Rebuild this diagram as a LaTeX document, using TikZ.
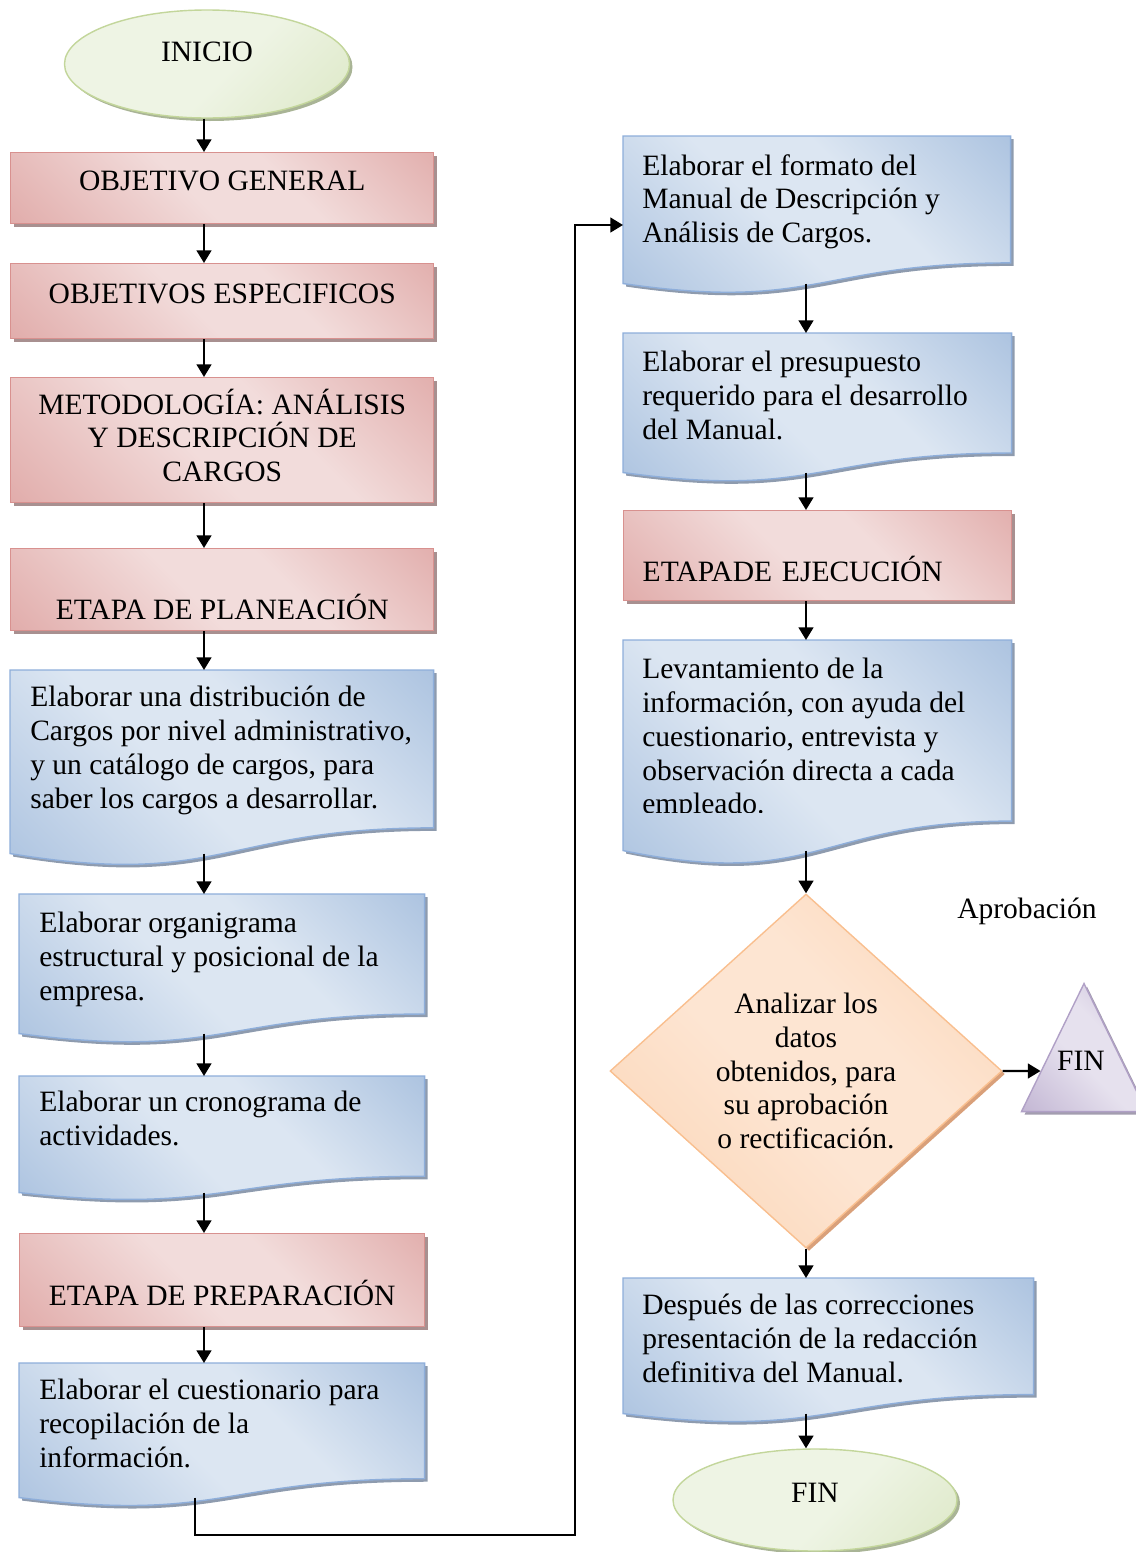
\documentclass[tikz,border=0pt]{standalone}
\usepackage{fontspec}
\setmainfont{Liberation Serif}
\usepackage{xcolor}
\usetikzlibrary{shapes.geometric,arrows.meta,positioning,calc,shadows}

\definecolor{redlt}{HTML}{F2DCDB}
\definecolor{reddk}{HTML}{D99694}
\definecolor{redbd}{HTML}{D8918F}
\definecolor{redsh}{HTML}{A89090}
\definecolor{bluelt}{HTML}{DCE6F2}
\definecolor{bluedk}{HTML}{92B0D6}
\definecolor{bluebd}{HTML}{8EAEDA}
\definecolor{bluesh}{HTML}{8E9BAE}
\definecolor{greenlt}{HTML}{EEF4E4}
\definecolor{greendk}{HTML}{D4E2B8}
\definecolor{greenbd}{HTML}{C3D69B}
\definecolor{greensh}{HTML}{A9B496}
\definecolor{orglt}{HTML}{FDE5D2}
\definecolor{orgdk}{HTML}{FAC9A1}
\definecolor{orgbd}{HTML}{F9BF8F}
\definecolor{orgsh}{HTML}{D9A07A}
\definecolor{purlt}{HTML}{E6E1EE}
\definecolor{purdk}{HTML}{B2A2C7}
\definecolor{purbd}{HTML}{B0A0C6}
\definecolor{pursh}{HTML}{A39DAF}

\pgfdeclareverticalshading{redfx}{100bp}{color(0bp)=(reddk); color(45bp)=(redlt); color(60bp)=(redlt); color(100bp)=(reddk)}
\pgfdeclareverticalshading{bluefx}{100bp}{color(0bp)=(bluedk); color(45bp)=(bluelt); color(60bp)=(bluelt); color(100bp)=(bluedk)}
\pgfdeclareverticalshading{greenfx}{100bp}{color(0bp)=(greendk); color(45bp)=(greenlt); color(100bp)=(greenlt)}
\pgfdeclareverticalshading{orgfx}{100bp}{color(0bp)=(orgdk); color(45bp)=(orglt); color(60bp)=(orglt); color(100bp)=(orgdk)}
\pgfdeclareverticalshading{purfx}{100bp}{color(0bp)=(purdk); color(45bp)=(purlt); color(60bp)=(purlt); color(100bp)=(purdk)}

\newlength{\unitpx}
\setlength{\unitpx}{0.025cm}

% fondo de un documento (borde inferior ondulado)
\newcommand{\docfill}[2]{%
  \path[#2] (#1.north west) -- (#1.north east)
    -- ($(#1.north east)!0.86!(#1.south east)$)
    .. controls ($(#1.north)!0.86!(#1.south)$) and ($(#1.north)!1.19!(#1.south)$)
    .. (#1.south west) -- cycle;}

\begin{document}
\begin{tikzpicture}[
    x=0.025cm, y=-0.025cm,
    font=\fontsize{21}{24}\selectfont,
    arrow/.style={->, line width=1.5pt, >={Triangle[length=9pt, width=10.5pt]}},
    redbox/.style={anchor=north west, inner sep=0pt, align=center, shading=redfx, shading angle=-45, draw=redbd, line width=1pt,
        drop shadow={shadow xshift=0.075cm, shadow yshift=-0.075cm, fill=redsh, opacity=1}},
    termbox/.style={ellipse, inner sep=0pt, shading=greenfx, shading angle=45, draw=greenbd, line width=1pt,
        drop shadow={shadow xshift=0.075cm, shadow yshift=-0.075cm, fill=greensh, opacity=1}},
    frame/.style={anchor=north west, inner sep=0pt},
    doctext/.style={anchor=north west, inner sep=0pt, align=left},
    bluefill/.style={shading=bluefx, shading angle=-45, draw=bluebd, line width=1pt},
    blueshadow/.style={fill=bluesh, transform canvas={xshift=0.075cm, yshift=-0.075cm}}
]
    \useasboundingbox (0,0) rectangle (1136,1552);

    % ejes de las flechas
    \coordinate (lx) at (204,0);
    \coordinate (rx) at (806,0);

    % Columna izquierda
    \node[termbox, minimum width=285*\unitpx, minimum height=108*\unitpx, text height=14pt, text depth=17pt] (ini) at (207,64) {INICIO};
    \node[redbox, minimum width=423*\unitpx, minimum height=71*\unitpx, text height=14pt, text depth=11pt] (og) at (10,152) {OBJETIVO GENERAL};
    \node[redbox, minimum width=423*\unitpx, minimum height=75*\unitpx, text height=14pt, text depth=11pt] (oe) at (10,263) {OBJETIVOS ESPECIFICOS};
    \node[redbox, minimum width=423*\unitpx, minimum height=125*\unitpx] (met) at (10,377) {METODOLOGÍA: ANÁLISIS\\Y DESCRIPCIÓN DE\\CARGOS\\[-17pt]};
    \node[redbox, minimum width=423*\unitpx, minimum height=82*\unitpx, text height=42pt, text depth=0pt] (plan) at (10,548) {ETAPA DE PLANEACIÓN};

    \node[frame, minimum width=423*\unitpx, minimum height=183*\unitpx] (d1) at (10,670) {};
    \docfill{d1}{blueshadow}
    \docfill{d1}{bluefill}
    \node[doctext] (t1) at ($(d1.north west)+(20,16)$) {Elaborar una distribución de\\Cargos por nivel administrativo,\\y un catálogo de cargos, para\\saber los cargos a desarrollar.};

    \node[frame, minimum width=405*\unitpx, minimum height=139*\unitpx] (d2) at (19,894) {};
    \docfill{d2}{blueshadow}
    \docfill{d2}{bluefill}
    \node[doctext] (t2) at ($(d2.north west)+(20,18)$) {Elaborar organigrama\\estructural y posicional de la\\empresa.};

    \node[frame, minimum width=405*\unitpx, minimum height=116*\unitpx] (d3) at (19,1076) {};
    \docfill{d3}{blueshadow}
    \docfill{d3}{bluefill}
    \node[doctext] (t3) at ($(d3.north west)+(20,15)$) {Elaborar un cronograma de\\actividades.};

    \node[redbox, minimum width=405*\unitpx, minimum height=93*\unitpx, text height=36pt, text depth=0pt] (prep) at (19,1233) {ETAPA DE PREPARACIÓN};

    \node[frame, minimum width=405*\unitpx, minimum height=134*\unitpx] (d4) at (19,1363) {};
    \docfill{d4}{blueshadow}
    \docfill{d4}{bluefill}
    \node[doctext] (t4) at ($(d4.north west)+(20,16)$) {Elaborar el cuestionario para\\recopilación de la\\información.};

    % Columna derecha
    \node[frame, minimum width=387*\unitpx, minimum height=147*\unitpx] (r1) at (623,136) {};
    \docfill{r1}{blueshadow}
    \docfill{r1}{bluefill}
    \node[doctext] (s1) at ($(r1.north west)+(19,18)$) {Elaborar el formato del\\Manual de Descripción y\\Análisis de Cargos.};

    \node[frame, minimum width=388*\unitpx, minimum height=139*\unitpx] (r2) at (623,333) {};
    \docfill{r2}{blueshadow}
    \docfill{r2}{bluefill}
    \node[doctext] (s2) at ($(r2.north west)+(19,18)$) {Elaborar el presupuesto\\requerido para el desarrollo\\del Manual.};

    \node[redbox, minimum width=388*\unitpx, minimum height=90*\unitpx, text height=36pt, text depth=0pt, align=left, text width=350*\unitpx] (ejec) at (623,510) {ETAPADE EJECUCIÓN};

    \node[frame, minimum width=388*\unitpx, minimum height=210*\unitpx] (r3) at (623,640) {};
    \docfill{r3}{blueshadow}
    \docfill{r3}{bluefill}
    \begin{scope}
        \clip (r3.north west) rectangle ($(r3.north east)+(0,172)$);
        \node[doctext] (s3) at ($(r3.north west)+(19,18)$) {Levantamiento de la\\información, con ayuda del\\cuestionario, entrevista y\\observación directa a cada\\empleado.};
    \end{scope}

    \node[diamond, minimum width=392*\unitpx, minimum height=354*\unitpx, inner sep=0pt, align=center, shading=orgfx, shading angle=-45, draw=orgbd, line width=1pt,
        drop shadow={shadow xshift=0.075cm, shadow yshift=-0.075cm, fill=orgsh, opacity=1}] (dec) at (806,1071)
        {Analizar los\\datos\\obtenidos, para\\su aprobación\\o rectificación.};
    \node (aprob) at (1027,911) {Aprobación};
    \node[isosceles triangle, isosceles triangle apex angle=54, shape border rotate=90, isosceles triangle stretches,
        minimum width=125*\unitpx, minimum height=128*\unitpx, inner sep=0pt, anchor=apex,
        shading=purfx, shading angle=-45, draw=purbd, line width=1pt,
        drop shadow={shadow xshift=0.075cm, shadow yshift=-0.075cm, fill=pursh, opacity=1}] (tri) at (1084,982) {};
    \node (fin2) at ($(tri.apex)+(-3,79)$) {FIN};

    \node[frame, minimum width=410*\unitpx, minimum height=135*\unitpx] (r4) at (623,1278) {};
    \docfill{r4}{blueshadow}
    \docfill{r4}{bluefill}
    \node[doctext] (s4) at ($(r4.north west)+(19,16)$) {Después de las correcciones\\presentación de la redacción\\definitiva del Manual.};

    \node[termbox, minimum width=284*\unitpx, minimum height=102*\unitpx, text height=14pt, text depth=10pt] (fin) at (815,1500) {FIN};

    % Flechas
    \draw[arrow] (ini.south -| lx) -- (og.north -| lx);
    \draw[arrow] (og.south -| lx) -- (oe.north -| lx);
    \draw[arrow] (oe.south -| lx) -- (met.north -| lx);
    \draw[arrow] (met.south -| lx) -- (plan.north -| lx);
    \draw[arrow] (plan.south -| lx) -- (d1.north -| lx);
    \draw[arrow] (d1.south -| lx) -- (d2.north -| lx);
    \draw[arrow] (d2.south -| lx) -- (d3.north -| lx);
    \draw[arrow] (d3.south -| lx) -- (prep.north -| lx);
    \draw[arrow] (prep.south -| lx) -- (d4.north -| lx);

    \coordinate (loopa) at (195,1535);
    \coordinate (loopb) at (575,1535);
    \coordinate (loopc) at (575,225);
    \draw[arrow] (d4.south -| loopa) -- (loopa) -- (loopb) -- (loopc) -- (r1.west |- loopc);

    \draw[arrow] (r1.south -| rx) -- (r2.north -| rx);
    \draw[arrow] (r2.south -| rx) -- (ejec.north -| rx);
    \draw[arrow] (ejec.south -| rx) -- (r3.north -| rx);
    \draw[arrow] (r3.south -| rx) -- (dec.north);
    \draw[arrow] (dec.south) -- (r4.north -| dec.south);
    \coordinate (hit) at (dec.east -| tri.apex);
    \draw[arrow] (dec.east) -- (intersection cs: first line={(dec.east)--(hit)}, second line={(tri.apex)--(tri.left corner)});
    \draw[arrow] (r4.south -| rx) -- (fin.north -| rx);

\end{tikzpicture}
\end{document}
